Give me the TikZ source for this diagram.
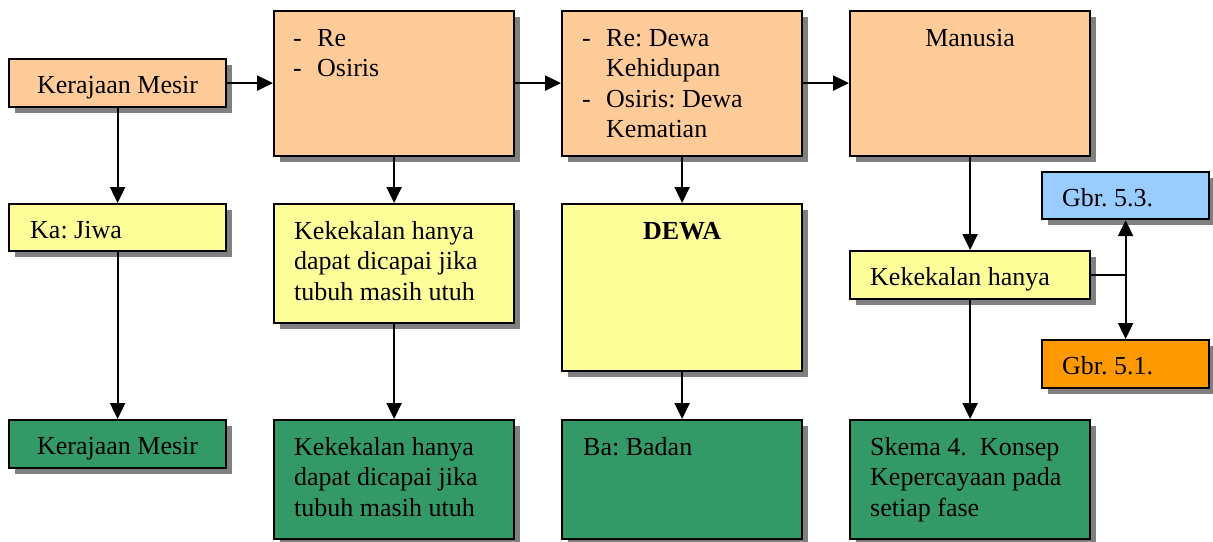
\documentclass[tikz,border=0pt]{standalone}
\usepackage{fontspec}
\setmainfont{Liberation Serif}
\usetikzlibrary{arrows.meta,shadows,calc}
\definecolor{peach}{HTML}{FFCC99}
\definecolor{lyellow}{HTML}{FFFF99}
\definecolor{dgreen}{HTML}{339966}
\definecolor{lblue}{HTML}{99CCFF}
\definecolor{orng}{HTML}{FF9900}
\definecolor{shadowgray}{HTML}{808080}
\frenchspacing
\begin{document}
\begin{tikzpicture}[x=1pt,y=-1pt,
  box/.style={draw=black,line width=2.2pt,anchor=north west,inner sep=0pt,
    drop shadow={shadow xshift=6pt,shadow yshift=-6pt,fill=shadowgray,opacity=1}},
  small/.style={box,minimum width=217pt,minimum height=48pt},
  big/.style={box,minimum width=240pt,minimum height=145pt},
  mid/.style={box,minimum width=240pt,minimum height=119pt},
  gbr/.style={box,minimum width=167pt,minimum height=47pt},
  txt/.style={anchor=base west,inner sep=0pt,font=\fontsize{26}{30.5}\selectfont},
  ctxt/.style={txt,anchor=base},
  arr/.style={line width=2.2pt,-{Triangle[length=16pt,width=15pt]}},
  ln/.style={line width=2.2pt}]
\useasboundingbox (0,0) rectangle (1213,541);
\fill[white] (0,0) rectangle (1213,541);
% row 1
\node[small,fill=peach] (b1) at (8,58) {};
\node[big,fill=peach] (b2) at (273,10) {};
\node[big,fill=peach] (b3) at (561,10) {};
\node[big,fill=peach] (b4) at (849,10) {};
% row 2
\node[small,fill=lyellow,minimum height=47pt] (ka) at (8,203) {};
\node[mid,fill=lyellow] (k2) at (273,203) {};
\node[box,fill=lyellow,minimum width=240pt,minimum height=167pt] (dewa) at (561,203) {};
\node[small,fill=lyellow,minimum width=240pt] (kr) at (849,250) {};
\node[gbr,fill=lblue] (g53) at (1041,171) {};
\node[gbr,fill=orng,minimum height=48pt] (g51) at (1041,339) {};
% row 3
\node[small,fill=dgreen] (gr1) at (8,419) {};
\node[mid,fill=dgreen] (gr2) at (273,419) {};
\node[mid,fill=dgreen] (ba) at (561,419) {};
\node[mid,fill=dgreen] (sk) at (849,419) {};
% texts
\node[ctxt] (t1) at ($(b1.north)+(0,35.5)$) {Kerajaan Mesir};
\node[txt] (t2) at ($(b2.north west)+(20,36)$) {\begin{tabular}[t]{@{}p{24pt}@{}l@{}}-&Re\\-&Osiris\end{tabular}};
\node[txt] (t3) at ($(b3.north west)+(21,36)$) {\begin{tabular}[t]{@{}p{24pt}@{}l@{}}-&Re: Dewa\\&Kehidupan\\-&Osiris: Dewa\\&Kematian\end{tabular}};
\node[ctxt] (t4) at ($(b4.north)+(0,36.5)$) {Manusia};
\node[txt] (t5) at ($(ka.north west)+(22,35)$) {Ka: Jiwa};
\node[txt] (t6) at ($(k2.north west)+(21,36)$) {\begin{tabular}[t]{@{}l@{}}Kekekalan hanya\\dapat dicapai jika\\tubuh masih utuh\end{tabular}};
\node[ctxt,font=\fontsize{26}{30}\selectfont\bfseries] (t7) at ($(dewa.north)+(0,36)$) {DEWA};
\node[txt] (t8) at ($(kr.north west)+(21,35.5)$) {Kekekalan hanya};
\node[txt] (t9) at ($(g53.north west)+(21,35)$) {Gbr. 5.3.};
\node[txt] (t10) at ($(g51.north west)+(21,35)$) {Gbr. 5.1.};
\node[ctxt] (t11) at ($(gr1.north)+(0,35.5)$) {Kerajaan Mesir};
\node[txt] (t12) at ($(gr2.north west)+(21,36)$) {\begin{tabular}[t]{@{}l@{}}Kekekalan hanya\\dapat dicapai jika\\tubuh masih utuh\end{tabular}};
\node[txt] (t13) at ($(ba.north west)+(22,36)$) {Ba: Badan};
\node[txt] (t14) at ($(sk.north west)+(21,36)$) {\begin{tabular}[t]{@{}l@{}}Skema 4.\ \ Konsep\\Kepercayaan pada\\setiap fase\end{tabular}};
% connectors
\draw[arr] (b1.east) -- (b1.east -| b2.west);
\draw[arr] (b1.east -| b2.east) -- (b1.east -| b3.west);
\draw[arr] (b1.east -| b3.east) -- (b1.east -| b4.west);
\draw[arr] (b1.south) -- (ka.north);
\draw[arr] (b2.south) -- (k2.north);
\draw[arr] (b3.south) -- (dewa.north);
\draw[arr] (b4.south) -- (kr.north);
\draw[arr] (ka.south) -- (gr1.north);
\draw[arr] (k2.south) -- (gr2.north);
\draw[arr] (dewa.south) -- (ba.north);
\draw[arr] (kr.south) -- (sk.north);
\coordinate (j) at (g53.south |- kr.east);
\draw[ln] (kr.east) -- (j);
\draw[arr] (j) -- (g53.south);
\draw[arr] (j) -- (g51.north);
\end{tikzpicture}
\end{document}
